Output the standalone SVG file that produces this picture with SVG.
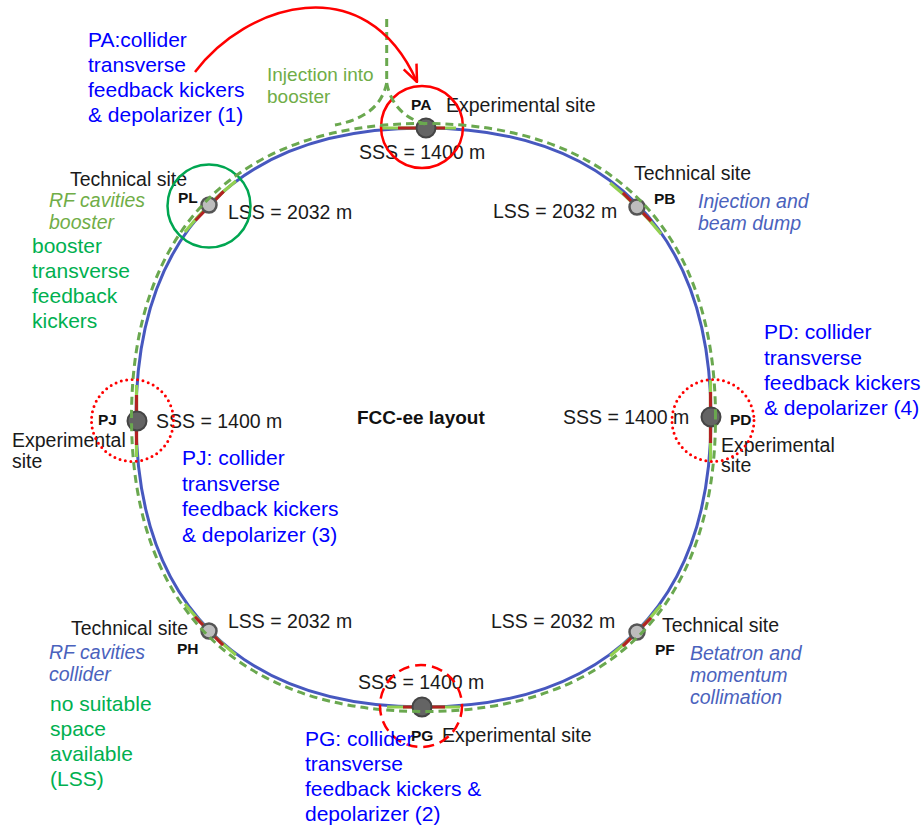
<svg xmlns="http://www.w3.org/2000/svg" width="924" height="826" viewBox="0 0 924 826">
<defs>
<style>
text{font-family:"Liberation Sans",Arial,sans-serif;}
.blk{font-size:19.5px;fill:#1a1a1a;}
.lbl{font-size:15.5px;font-weight:bold;fill:#111;}
.blue{font-size:21px;fill:#0000ff;}
.grn{font-size:21px;fill:#00b050;}
.lgrn{font-size:19px;fill:#70ad47;}
.itg{font-size:19.5px;font-style:italic;fill:#70ad47;}
.itb{font-size:19.5px;font-style:italic;fill:#4a62bd;}
.ring{fill:none;stroke:#4758bf;stroke-width:3;}
.boost{fill:none;stroke:#6aa84f;stroke-width:3;stroke-dasharray:8 5;}
.lg{fill:none;stroke:#92d050;stroke-width:3.2;}
.rd{fill:none;stroke:#b22222;stroke-width:3.2;}
.exp{fill:#646464;stroke:#454545;stroke-width:2;}
.tech{fill:#bdbdbd;stroke:#555;stroke-width:2.5;}
.dot{fill:none;stroke:#ff0000;stroke-width:3;stroke-dasharray:0 5.5;stroke-linecap:round;}
</style>
<marker id="arr" markerUnits="userSpaceOnUse" markerWidth="20" markerHeight="20" viewBox="0 0 20 20" refX="19" refY="10" orient="auto">
<path d="M2,3 L19,10 L2,17" fill="none" stroke="#ff0000" stroke-width="2.5"/>
</marker>
</defs>
<rect width="924" height="826" fill="#ffffff"/>

<g id="collider-ring">
<path class="ring" d="M711,417.5 C711,232.2 607.5,128 423.5,128 C239.5,128 136,232.2 136,417.5 C136,602.8 239.5,707 423.5,707 C607.5,707 711,602.8 711,417.5 Z"/>
</g>

<g id="PA">
<path class="lg" d="M382,128 L456,128"/>
<path class="rd" d="M398,128 L445,128"/>
<circle class="exp" cx="426" cy="128" r="9.5"/>
<text class="lbl" x="411" y="110">PA</text>
<text class="blk" x="446" y="112">Experimental site</text>
<text class="blk" x="359" y="159">SSS = 1400 m</text>
<circle cx="422" cy="127" r="41" fill="none" stroke="#ff0000" stroke-width="2.5"/>
</g>

<g id="PL">
<path class="lg" d="M235.9,180.9 Q207.6,203.6 184.9,231.9"/>
<path class="rd" d="M223.6,191.4 L195.4,220.5"/>
<circle class="tech" cx="209" cy="205" r="7.5"/>
<text class="lbl" x="178" y="203">PL</text>
<text class="blk" x="70" y="186">Technical site</text>
<text class="blk" x="228" y="219">LSS = 2032 m</text>
<circle cx="209" cy="206" r="41.5" fill="none" stroke="#00a651" stroke-width="2.5"/>
</g>

<g id="PB">
<path class="lg" d="M610.1,182.9 Q638.4,205.6 661.1,233.9"/>
<path class="rd" d="M622.9,192.9 L651.1,221.1"/>
<circle class="tech" cx="637" cy="207" r="7.5"/>
<text class="lbl" x="654" y="204">PB</text>
<text class="blk" x="634" y="180">Technical site</text>
<text class="blk" x="493" y="218">LSS = 2032 m</text>
</g>

<g id="PJ">
<path class="lg" d="M136.5,385 L136.5,457"/>
<path class="rd" d="M136.5,395 L136.5,445"/>
<circle class="exp" cx="137" cy="421" r="9.5"/>
<text class="lbl" x="98" y="425">PJ</text>
<text class="blk" x="156" y="428">SSS = 1400 m</text>
<text class="blk" x="12" y="447">Experimental</text>
<text class="blk" x="12" y="468">site</text>
<circle class="dot" cx="132.5" cy="420.5" r="41"/>
</g>

<g id="PD">
<path class="lg" d="M710.5,380 L710.5,462"/>
<path class="rd" d="M710.5,392 L710.5,443"/>
<circle class="exp" cx="711" cy="417" r="9.5"/>
<text class="lbl" x="730" y="425">PD</text>
<text class="blk" x="563" y="424">SSS = 1400 m</text>
<text class="blk" x="721" y="452">Experimental</text>
<text class="blk" x="721" y="472">site</text>
<circle class="dot" cx="713" cy="420.5" r="41"/>
</g>

<g id="PH">
<path class="lg" d="M184.9,604.1 Q207.6,632.4 235.9,655.1"/>
<path class="rd" d="M194.9,616.9 L223.1,645.1"/>
<circle class="tech" cx="209" cy="631" r="7.5"/>
<text class="lbl" x="177" y="654">PH</text>
<text class="blk" x="71" y="635">Technical site</text>
<text class="blk" x="228" y="628">LSS = 2032 m</text>
</g>

<g id="PF">
<path class="lg" d="M661.1,605.1 Q638.4,633.4 610.1,656.1"/>
<path class="rd" d="M651.1,617.9 L622.9,646.1"/>
<circle class="tech" cx="637" cy="632" r="7.5"/>
<text class="lbl" x="655" y="655">PF</text>
<text class="blk" x="662" y="632">Technical site</text>
<text class="blk" x="491" y="628">LSS = 2032 m</text>
</g>

<g id="PG">
<path class="lg" d="M387,707 L460,707"/>
<path class="rd" d="M403,707 L445,707"/>
<circle class="exp" cx="422" cy="707" r="9.5"/>
<text class="lbl" x="411" y="741">PG</text>
<text class="blk" x="442" y="742">Experimental site</text>
<text class="blk" x="358" y="689">SSS = 1400 m</text>
</g>

<g id="connectors">
<path class="boost" d="M715.5,417.5 C715.5,229.3 610.4,123.5 423.5,123.5 C236.6,123.5 131.5,229.3 131.5,417.5 C131.5,605.7 236.6,711.5 423.5,711.5 C610.4,711.5 715.5,605.7 715.5,417.5 Z"/>
<path class="boost" d="M386.7,19 L386.7,83"/>
<path class="boost" d="M386.7,83 C383,100 372,118 335,125"/>
<path class="boost" d="M386.7,83 C390,100 400,117 425,124"/>
<path d="M195,72 C245,5 365,-35 417,82" fill="none" stroke="#ff0000" stroke-width="2.5" marker-end="url(#arr)"/>
</g>

<g id="PG-mark">
<circle cx="421" cy="706" r="41" fill="none" stroke="#ff0000" stroke-width="2.5" stroke-dasharray="11 6"/>
</g>

<g id="annotations">
<text class="blue" x="88" y="47">PA:collider</text>
<text class="blue" x="88" y="72">transverse</text>
<text class="blue" x="88" y="97">feedback kickers</text>
<text class="blue" x="88" y="122">&amp; depolarizer (1)</text>

<text class="lgrn" x="267" y="81">Injection into</text>
<text class="lgrn" x="267" y="103">booster</text>

<text class="itg" x="49" y="207">RF cavities</text>
<text class="itg" x="49" y="229">booster</text>
<text class="grn" x="32" y="253">booster</text>
<text class="grn" x="32" y="278">transverse</text>
<text class="grn" x="32" y="303">feedback</text>
<text class="grn" x="32" y="328">kickers</text>

<text class="itb" x="698" y="208">Injection and</text>
<text class="itb" x="698" y="230">beam dump</text>

<text class="blue" x="764" y="339">PD: collider</text>
<text class="blue" x="764" y="365">transverse</text>
<text class="blue" x="764" y="390">feedback kickers</text>
<text class="blue" x="764" y="415">&amp; depolarizer (4)</text>

<text x="357" y="424" style="font-size:19px;font-weight:bold;fill:#111;">FCC-ee layout</text>

<text class="blue" x="182" y="465">PJ: collider</text>
<text class="blue" x="182" y="491">transverse</text>
<text class="blue" x="182" y="516">feedback kickers</text>
<text class="blue" x="182" y="542">&amp; depolarizer (3)</text>

<text class="itb" x="49" y="659">RF cavities</text>
<text class="itb" x="49" y="681">collider</text>
<text class="grn" x="50" y="711">no suitable</text>
<text class="grn" x="50" y="736">space</text>
<text class="grn" x="50" y="761">available</text>
<text class="grn" x="50" y="786">(LSS)</text>

<text class="itb" x="690" y="660">Betatron and</text>
<text class="itb" x="690" y="682">momentum</text>
<text class="itb" x="690" y="704">collimation</text>

<text class="blue" x="305" y="746">PG: collider</text>
<text class="blue" x="305" y="771">transverse</text>
<text class="blue" x="305" y="796">feedback kickers &amp;</text>
<text class="blue" x="305" y="821">depolarizer (2)</text>
</g>
</svg>
